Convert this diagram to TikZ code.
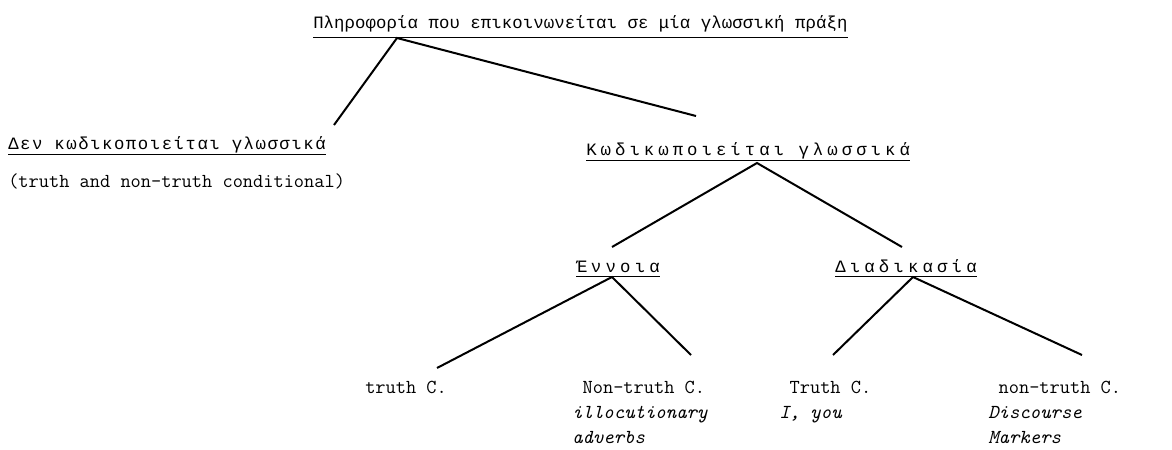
\documentclass[tikz,border=0pt]{standalone}
\usepackage{fontspec}
\newfontfamily\grfont{Liberation Mono}
\usetikzlibrary{calc}
\begin{document}
\begin{tikzpicture}[x=0.75pt,y=-0.75pt,
  lbl/.style={inner sep=0pt, anchor=base west, text depth=0pt, font=\ttfamily\fontsize{14.86}{19}\selectfont},
  gk/.style={inner sep=0pt, anchor=base west, text depth=0pt, font=\grfont\fontsize{13}{19}\selectfont\addfontfeature{LetterSpace=#1}},
  it/.style={lbl, font=\ttfamily\fontsize{14.86}{19}\selectfont\itshape},
  branch/.style={line width=1.5pt},
  uline/.style={line width=1.1pt}]
\path[use as bounding box] (0,0) rectangle (1172,450);

% texts
\node[gk=0.5] (title) at (313,28) {Πληροφορία που επικοινωνείται σε μία γλωσσική πράξη};
\node[gk=8.8] (den) at (8,149) {Δεν κωδικοποιείται γλωσσικά};
\node[lbl] (cond) at (8,187) {(truth and non-truth conditional)};
\node[gk=23.2] (kod) at (586,155) {Κωδικωποιείται γλωσσικά};
\node[gk=24.5] (enn) at (576,272) {Έννοια};
\node[gk=24] (diad) at (835,272) {Διαδικασία};

\node[lbl] (tc1) at (365,393) {truth C.};
\node[lbl] (ntc1) at (572,393) {\hspace*{7.8pt}Non-truth C.};
\node[it] (ntc1a) at (572,418) {illocutionary};
\node[it] (ntc1b) at (572,443) {adverbs};
\node[lbl] (tc2) at (779,393) {\hspace*{7.8pt}Truth C.};
\node[it] (tc2a) at (779,418) {I, you};
\node[lbl] (ntc2) at (988,393) {\hspace*{7.8pt}non-truth C.};
\node[it] (ntc2a) at (988,418) {Discourse};
\node[it] (ntc2b) at (988,443) {Markers};

% underlines
\foreach \n/\d in {title/9, den/5, kod/5, enn/4, diad/4}{
  \draw[uline] ([yshift=-\d*0.75pt]\n.south west) -- ([yshift=-\d*0.75pt]\n.south east);
}

% branch points
\coordinate (j0) at (397,38);
\coordinate (e1) at (334,125);
\coordinate (e2) at (696,116);
\coordinate (j1) at (757,163);
\coordinate (e3) at (612,247);
\coordinate (e4) at (902,247);
\coordinate (j2) at (612,277);
\coordinate (e5) at (437,368);
\coordinate (e6) at (691,355);
\coordinate (j3) at (913,277);
\coordinate (e7) at (833,355);
\coordinate (e8) at (1082,355);

\draw[branch] (e1) -- (j0) -- (e2);
\draw[branch] (e3) -- (j1) -- (e4);
\draw[branch] (e5) -- (j2) -- (e6);
\draw[branch] (e7) -- (j3) -- (e8);
\end{tikzpicture}
\end{document}
